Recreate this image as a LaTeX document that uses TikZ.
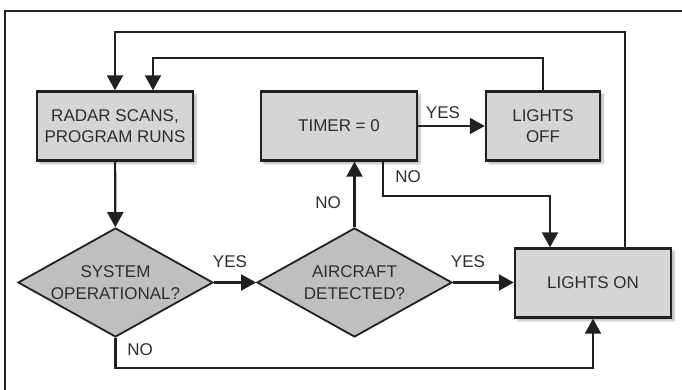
\documentclass[tikz,border=0pt]{standalone}
\usepackage{fontspec}
\setmainfont{Liberation Sans}
\usetikzlibrary{arrows.meta,shapes.geometric,shadows.blur}
\definecolor{ink}{HTML}{231F20}
\definecolor{boxgray}{HTML}{D4D5D7}
\definecolor{diagray}{HTML}{BEBFC1}
\definecolor{txtgray}{HTML}{2E2E2E}
\begin{document}
\begin{tikzpicture}[x=1pt,y=-1pt,
  >={Triangle[length=15pt,width=16pt]},
  every node/.style={font=\fontsize{17}{21.5}\selectfont,text=txtgray},
  stepbox/.style={draw=ink,line width=2.4pt,fill=boxgray,align=center,
    minimum height=69pt,inner sep=0pt,
    blur shadow={shadow xshift=3pt,shadow yshift=-3pt,shadow blur steps=6,shadow opacity=30}},
  ask/.style={diamond,aspect=1.79,draw=ink,line width=1.8pt,fill=diagray,align=center,
    minimum width=195pt,minimum height=109pt,inner sep=-3pt},
  flow/.style={draw=ink,line width=2.2pt,->},
  lbl/.style={inner sep=0pt}]
\useasboundingbox (0,0) rectangle (682,390);
\clip (0,0) rectangle (682,390);
\draw[ink,line width=2pt] (5,11) rectangle (720,420);

\node[stepbox,minimum width=156pt] (radar) at (115,126) {RADAR SCANS,\\PROGRAM RUNS};
\node[stepbox,minimum width=156pt] (timer) at (339,126) {TIMER = 0};
\node[stepbox,minimum width=114pt] (off) at (543,126) {LIGHTS\\OFF};
\node[stepbox,minimum width=156pt] (on) at (593,283) {LIGHTS ON};
\node[ask] (sys) at (115.5,282.5) {SYSTEM\\OPERATIONAL?};
\node[ask] (air) at (354.5,282.5) {AIRCRAFT\\DETECTED?};

\coordinate (toprail) at (0,32);
\coordinate (midrail) at (0,58);
\coordinate (lowrail) at (0,368);

\draw[flow] (radar) -- (sys);
\draw[flow] (sys.east) -- (air.west);
\draw[flow] (air.east) -- (on.west |- air.east);
\draw[flow] (air.north) -- (air.north |- timer.south);
\draw[flow] (timer.east) -- (off.west);
\draw[flow] ([xshift=44pt]timer.south) -- ++(0,34) -| ([xshift=-43pt]on.north);
\draw[flow] (sys.south) |- (on.south |- lowrail) -- (on.south);
\draw[flow] ([xshift=32pt]on.north) |- (radar.north |- toprail) -- (radar.north);
\draw[flow] (off.north) |- ([xshift=38pt]radar.north |- midrail) -- ([xshift=38pt]radar.north);

\node[lbl] (yes1) at (230,262) {YES};
\node[lbl] (yes2) at (468,262) {YES};
\node[lbl] (yes3) at (443,113) {YES};
\node[lbl] (no1) at (140,350) {NO};
\node[lbl] (no2) at (328,203) {NO};
\node[lbl] (no3) at (408,177) {NO};
\end{tikzpicture}
\end{document}
